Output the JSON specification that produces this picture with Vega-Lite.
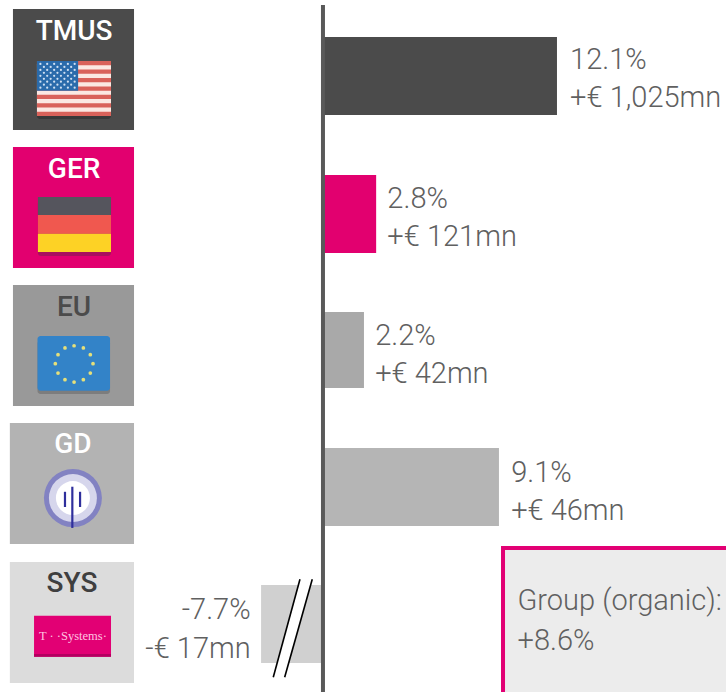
{
"$schema":"https://vega.github.io/schema/vega-lite/v6.json",
"width":726,"height":692,"padding":0,
"autosize":"none",
"background":"white",
"config":{"view":{"stroke":null},"axis":{"disable":true},"legend":{"disable":true}},
"resolve":{"scale":{"color":"independent"}},
"encoding":{
"x":{"field":"x0","type":"quantitative","scale":{"domain":[-16.7,20.84]}},
"y":{"field":"y0","type":"quantitative","scale":{"domain":[4.4964,-0.5547]}}
},
"layer":[
{"data":{"values":[
{"part":"TMUS","x0":-16.03,"x1":-9.77,"y0":-0.489,"y1":0.394},
{"part":"GER","x0":-16.03,"x1":-9.77,"y0":0.518,"y1":1.401},
{"part":"EU","x0":-16.03,"x1":-9.77,"y0":1.526,"y1":2.409},
{"part":"GD","x0":-16.19,"x1":-9.77,"y0":2.533,"y1":3.416},
{"part":"SYS","x0":-16.19,"x1":-9.77,"y0":3.547,"y1":4.431}
]},
"mark":{"type":"rect"},
"encoding":{"x2":{"field":"x1"},"y2":{"field":"y1"},
"color":{"field":"part","type":"nominal","scale":{"domain":["TMUS","GER","EU","GD","SYS"],"range":["#4b4b4b","#e2006f","#999999","#b3b3b3","#dcdcdc"]}}}},
{"data":{"values":[
{"part":"shadowUS","x0":-14.79,"x1":-10.96,"y0":-0.08,"y1":0.314},
{"part":"baseUS","x0":-14.79,"x1":-10.96,"y0":-0.1095,"y1":0.292},
{"part":"shadowDE","x0":-14.74,"x1":-10.96,"y0":0.91,"y1":1.314},
{"part":"shadowEU","x0":-14.76,"x1":-11.01,"y0":1.93,"y1":2.321},
{"part":"baseEU","x0":-14.76,"x1":-11.01,"y0":1.898,"y1":2.297}
]},
"mark":{"type":"rect","cornerRadius":3},
"encoding":{"x2":{"field":"x1"},"y2":{"field":"y1"},
"color":{"field":"part","type":"nominal","scale":{"domain":["shadowUS","baseUS","shadowDE","shadowEU","baseEU"],"range":["#393939","#fbe8e2","#a90f5e","#7d7d7d","#3383c8"]}}}},
{"data":{"values":[
{"part":"usred","x0":-14.79,"x1":-10.96,"y0":-0.1095,"y1":-0.0786},
{"part":"usred","x0":-14.79,"x1":-10.96,"y0":-0.0477,"y1":-0.0168},
{"part":"usred","x0":-14.79,"x1":-10.96,"y0":0.0141,"y1":0.045},
{"part":"usred","x0":-14.79,"x1":-10.96,"y0":0.0759,"y1":0.1068},
{"part":"usred","x0":-14.79,"x1":-10.96,"y0":0.1377,"y1":0.1686},
{"part":"usred","x0":-14.79,"x1":-10.96,"y0":0.1995,"y1":0.2304},
{"part":"usred","x0":-14.79,"x1":-10.96,"y0":0.2613,"y1":0.292},
{"part":"usblue","x0":-14.79,"x1":-12.66,"y0":-0.1095,"y1":0.1068},
{"part":"deblack","x0":-14.74,"x1":-10.96,"y0":0.883,"y1":1.0146},
{"part":"dered","x0":-14.74,"x1":-10.96,"y0":1.0146,"y1":1.151},
{"part":"deyellow","x0":-14.74,"x1":-10.96,"y0":1.151,"y1":1.2847},
{"part":"logo","x0":-14.94,"x1":-10.96,"y0":3.939,"y1":4.239},
{"part":"logodark","x0":-14.94,"x1":-10.96,"y0":4.219,"y1":4.239}
]},
"mark":{"type":"rect"},
"encoding":{"x2":{"field":"x1"},"y2":{"field":"y1"},
"color":{"field":"part","type":"nominal","scale":{"domain":["usred","usblue","deblack","dered","deyellow","logo","logodark"],"range":["#d9625a","#2a6bab","#55555d","#f0584f","#fdd225","#e20074","#b30060"]}}}},
{"data":{"values":[
{"x0":-14.61,"y0":-0.0879},{"x0":-14.26,"y0":-0.0879},{"x0":-13.9,"y0":-0.0879},{"x0":-13.55,"y0":-0.0879},{"x0":-13.19,"y0":-0.0879},{"x0":-12.84,"y0":-0.0879},
{"x0":-14.43,"y0":-0.0662},{"x0":-14.08,"y0":-0.0662},{"x0":-13.73,"y0":-0.0662},{"x0":-13.37,"y0":-0.0662},{"x0":-13.02,"y0":-0.0662},
{"x0":-14.61,"y0":-0.0446},{"x0":-14.26,"y0":-0.0446},{"x0":-13.9,"y0":-0.0446},{"x0":-13.55,"y0":-0.0446},{"x0":-13.19,"y0":-0.0446},{"x0":-12.84,"y0":-0.0446},
{"x0":-14.43,"y0":-0.023},{"x0":-14.08,"y0":-0.023},{"x0":-13.73,"y0":-0.023},{"x0":-13.37,"y0":-0.023},{"x0":-13.02,"y0":-0.023},
{"x0":-14.61,"y0":-0.0014},{"x0":-14.26,"y0":-0.0014},{"x0":-13.9,"y0":-0.0014},{"x0":-13.55,"y0":-0.0014},{"x0":-13.19,"y0":-0.0014},{"x0":-12.84,"y0":-0.0014},
{"x0":-14.43,"y0":0.0203},{"x0":-14.08,"y0":0.0203},{"x0":-13.73,"y0":0.0203},{"x0":-13.37,"y0":0.0203},{"x0":-13.02,"y0":0.0203},
{"x0":-14.61,"y0":0.0419},{"x0":-14.26,"y0":0.0419},{"x0":-13.9,"y0":0.0419},{"x0":-13.55,"y0":0.0419},{"x0":-13.19,"y0":0.0419},{"x0":-12.84,"y0":0.0419},
{"x0":-14.43,"y0":0.0635},{"x0":-14.08,"y0":0.0635},{"x0":-13.73,"y0":0.0635},{"x0":-13.37,"y0":0.0635},{"x0":-13.02,"y0":0.0635},
{"x0":-14.61,"y0":0.0852},{"x0":-14.26,"y0":0.0852},{"x0":-13.9,"y0":0.0852},{"x0":-13.55,"y0":0.0852},{"x0":-13.19,"y0":0.0852},{"x0":-12.84,"y0":0.0852}
]},
"mark":{"type":"circle","size":5,"color":"#cfe0f2","opacity":1}},
{"data":{"values":[
{"x0":-12.87,"y0":1.969},{"x0":-12.39,"y0":1.985},{"x0":-12.03,"y0":2.034},{"x0":-11.89,"y0":2.1},{"x0":-12.03,"y0":2.168},{"x0":-12.39,"y0":2.217},
{"x0":-12.87,"y0":2.234},{"x0":-13.34,"y0":2.217},{"x0":-13.7,"y0":2.168},{"x0":-13.84,"y0":2.1},{"x0":-13.7,"y0":2.034},{"x0":-13.34,"y0":1.985}
]},
"mark":{"type":"circle","size":14,"color":"#e6e07a","opacity":1}},
{"data":{"values":[{"x0":-12.93,"y0":3.081}]},
"mark":{"type":"circle","opacity":1,"size":3364,"color":"#8282c2"}},
{"data":{"values":[{"x0":-12.93,"y0":3.081}]},
"mark":{"type":"circle","opacity":1,"size":2304,"color":"#d6d6ec"}},
{"data":{"values":[{"x0":-12.93,"y0":3.081}]},
"mark":{"type":"circle","opacity":1,"size":1156,"color":"#ffffff"}},
{"data":{"values":[
{"x0":-12.96,"y0":2.998,"y1":3.299},
{"x0":-13.34,"y0":3.035,"y1":3.146},
{"x0":-12.56,"y0":3.035,"y1":3.146}
]},
"mark":{"type":"rule","strokeWidth":2.2,"color":"#2f2f9c"},
"encoding":{"y2":{"field":"y1"}}},
{"data":{"values":[
{"tile":"TMUS","x0":-12.87,"y0":-0.322},
{"tile":"GER","x0":-12.87,"y0":0.686},
{"tile":"EU","x0":-12.87,"y0":1.693},
{"tile":"GD","x0":-12.93,"y0":2.693},
{"tile":"SYS","x0":-12.98,"y0":3.707}
]},
"mark":{"type":"text","font":"Roboto","fontWeight":500,"fontSize":28,"baseline":"middle","align":"center"},
"encoding":{"text":{"field":"tile"},
"color":{"field":"tile","type":"nominal","scale":{"domain":["TMUS","GER","EU","GD","SYS"],"range":["#ffffff","#ffffff","#4b4b4b","#ffffff","#3f3f3f"]}}}},
{"data":{"values":[{"t":"T · ·Systems·","x0":-12.93,"y0":4.09}]},
"mark":{"type":"text","font":"Liberation Serif","fontSize":12.5,"baseline":"middle","align":"center","color":"#ffc4e0"},
"encoding":{"text":{"field":"t"}}},
{"data":{"values":[
{"segment":"TMUS","x0":0,"x1":12.1,"y0":-0.285,"y1":0.285},
{"segment":"GER","x0":0,"x1":2.75,"y0":0.723,"y1":1.292},
{"segment":"EU","x0":0,"x1":2.12,"y0":1.723,"y1":2.277},
{"segment":"GD","x0":0,"x1":9.1,"y0":2.715,"y1":3.285},
{"segment":"SYS","x0":0,"x1":-3.2,"y0":3.715,"y1":4.285}
]},
"mark":{"type":"rect"},
"encoding":{"x2":{"field":"x1"},"y2":{"field":"y1"},
"color":{"field":"segment","type":"nominal","scale":{"domain":["TMUS","GER","EU","GD","SYS"],"range":["#4b4b4b","#e2006f","#a9a9a9","#b5b5b5","#d0d0d0"]}}}},
{"data":{"values":[{"x0":-0.871,"x1":-2.275,"y0":3.674,"y1":4.389}]},
"mark":{"type":"rule","strokeWidth":11,"color":"#ffffff"},
"encoding":{"x2":{"field":"x1"},"y2":{"field":"y1"}}},
{"data":{"values":[
{"x0":-1.189,"x1":-2.57,"y0":3.674,"y1":4.389},
{"x0":-0.553,"x1":-1.98,"y0":3.674,"y1":4.389}
]},
"mark":{"type":"rule","strokeWidth":1.6,"color":"#000000"},
"encoding":{"x2":{"field":"x1"},"y2":{"field":"y1"}}},
{"data":{"values":[{"x0":0,"y0":-0.518,"y1":4.4964}]},
"mark":{"type":"rule","strokeWidth":4,"color":"#595959"},
"encoding":{"y2":{"field":"y1"}}},
{"data":{"values":[{"x0":9.31,"x1":25,"y0":3.445,"y1":5.5}]},
"mark":{"type":"rect","clip":true,"fill":"#ececec","stroke":"#e20074","strokeWidth":4},
"encoding":{"x2":{"field":"x1"},"y2":{"field":"y1"}}},
{"data":{"values":[
{"t":"12.1%","x0":12.78,"y0":-0.116},
{"t":"+€ 1,025mn","x0":12.78,"y0":0.161},
{"t":"2.8%","x0":3.33,"y0":0.899},
{"t":"+€ 121mn","x0":3.33,"y0":1.176},
{"t":"2.2%","x0":2.7,"y0":1.899},
{"t":"+€ 42mn","x0":2.7,"y0":2.176},
{"t":"9.1%","x0":9.73,"y0":2.899},
{"t":"+€ 46mn","x0":9.73,"y0":3.176},
{"t":"Group (organic):","x0":10.06,"y0":3.833},
{"t":"+8.6%","x0":10.06,"y0":4.125}
]},
"mark":{"type":"text","font":"Roboto","fontWeight":300,"fontSize":29,"baseline":"middle","align":"left","color":"#606060"},
"encoding":{"text":{"field":"t"}}},
{"data":{"values":[
{"t":"-7.7%","x0":-3.74,"y0":3.899},
{"t":"-€ 17mn","x0":-3.74,"y0":4.183}
]},
"mark":{"type":"text","font":"Roboto","fontWeight":300,"fontSize":29,"baseline":"middle","align":"right","color":"#606060"},
"encoding":{"text":{"field":"t"}}}
]
}
